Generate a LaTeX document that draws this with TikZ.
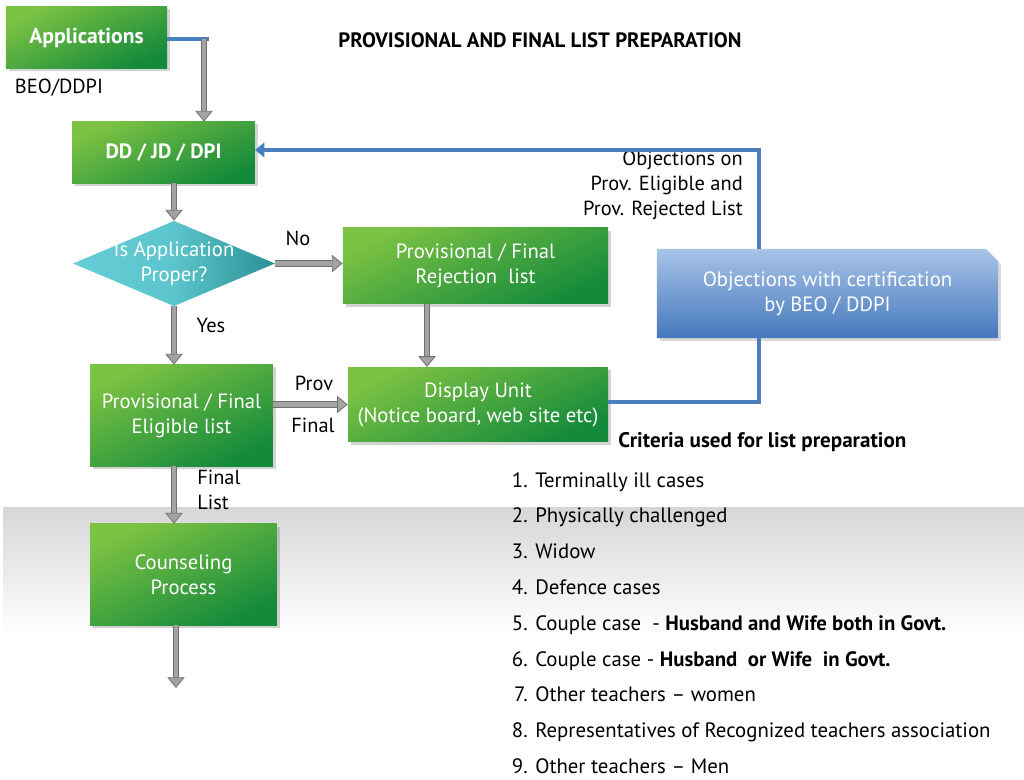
\documentclass[tikz,border=0pt]{standalone}
\usepackage{fontspec}
\setmainfont{PT Sans}
\usetikzlibrary{arrows.meta,shapes.geometric,shapes.misc,shadows,positioning}
\definecolor{boxlight}{HTML}{7CC243}
\definecolor{boxdark}{HTML}{148A3B}
\definecolor{teallight}{HTML}{64CDD6}
\definecolor{tealdark}{HTML}{2A9294}
\definecolor{objtop}{HTML}{A8C4E7}
\definecolor{objbottom}{HTML}{4578BD}
\definecolor{linkblue}{HTML}{4A7EBF}
\definecolor{arrowfill}{HTML}{A3A3A3}
\definecolor{arrowedge}{HTML}{707070}
\definecolor{bandgray}{HTML}{D6D6D6}
\begin{document}
\begin{tikzpicture}[x=0.75pt,y=-0.75pt,
  greenbox/.style={rectangle,inner sep=0pt,text=white,align=center,
    font=\fontsize{15.5}{18.75}\selectfont,
    top color=boxlight,bottom color=boxdark,shading angle=25,
    drop shadow={opacity=0.35,shadow xshift=2pt,shadow yshift=-2pt}},
  flow/.style={draw=arrowedge,line width=0.6pt,double=arrowfill,double distance=3.4pt,
    -{Triangle[width=13pt,length=8pt,fill=arrowfill]}},
  bluelink/.style={draw=linkblue,line width=3.6pt},
  lbl/.style={inner sep=0pt,font=\fontsize{15.3}{18.75}\selectfont},
  listitem/.style={inner sep=0pt,anchor=base west,font=\fontsize{15.6}{18}\selectfont}]
  \useasboundingbox (0,0) rectangle (1024,780);
  \fill[top color=bandgray,bottom color=white] (3,507) rectangle (1024,635);
  % boxes
  \node[greenbox,minimum width=121pt,minimum height=46pt,font=\bfseries\fontsize{16.2}{18}\selectfont] (app) at (86.5,37.5) {Applications};
  \node[lbl] (beo) at (59,88) {BEO/DDPI};
  \node[greenbox,minimum width=137pt,minimum height=46pt,font=\bfseries\fontsize{15.5}{18}\selectfont] (ddj) at (163.5,152.5) {DD / JD / DPI};
  \node[diamond,inner sep=0pt,minimum width=151.5pt,minimum height=64pt,
    left color=teallight,right color=tealdark,middle color=teallight!85!tealdark] (proper) at (174,263.5) {};
  \node[text=white,align=center,inner sep=0pt,font=\fontsize{15.5}{18.75}\selectfont] (propertext) at (proper.center) {Is Application\\Proper?};
  \node[greenbox,minimum width=199pt,minimum height=57pt] (reject) at (475.5,266) {Provisional / Final\\Rejection\ \ list};
  \node[greenbox,minimum width=195pt,minimum height=56pt] (display) at (478,404.5) {Display Unit\\(Notice board, web site etc)};
  \node[greenbox,minimum width=137pt,minimum height=76pt] (eligible) at (181.5,415.5) {Provisional / Final\\Eligible list};
  \node[greenbox,minimum width=140pt,minimum height=76pt] (counsel) at (183.5,574.5) {Counseling\\Process};
  \node[chamfered rectangle,chamfered rectangle corners=north east,chamfered rectangle xsep=6pt,
    inner sep=0pt,minimum width=256pt,minimum height=67pt,text=white,align=center,
    font=\fontsize{15.5}{18.75}\selectfont,top color=objtop,bottom color=objbottom,
    drop shadow={opacity=0.3,shadow xshift=2pt,shadow yshift=-2pt}] (objcert) at (827.5,293.5) {Objections with certification\\by BEO / DDPI};
  % texts
  \node[font=\bfseries\fontsize{15.6}{18}\selectfont] (title) at (540,40) {PROVISIONAL AND FINAL LIST PREPARATION};
  \node[lbl,align=right,anchor=north east] (objtext) at (743,151) {Objections on\\Prov. Eligible and\\Prov. Rejected List};
  \node[lbl] (no) at (298,238) {No};
  \node[lbl] (yes) at (211,325) {Yes};
  \node[lbl] (prov) at (314,383) {Prov};
  \node[lbl] (final) at (313,425) {Final};
  \node[lbl,align=left,anchor=north west] (finallist) at (197,470) {Final\\List};
  \node[lbl,font=\bfseries\fontsize{15.8}{18}\selectfont,anchor=west] (criteria) at (618,442) {Criteria used for list preparation};
  \foreach \txt [count=\i] in {Terminally ill cases,Physically challenged,Widow,Defence cases,
    {Couple case\ \ - \textbf{Husband and Wife both in Govt.}},
    {Couple case - \textbf{Husband\ \ or Wife\ \ in Govt.}},
    Other teachers -- women,Representatives of Recognized teachers association,Other teachers -- Men}
    {\node[listitem,anchor=base east] (num\i) at (528,{487+35.8*(\i-1)}) {\i.};
     \node[listitem] (item\i) at (535,{487+35.8*(\i-1)}) {\txt};}
  % connectors
  \coordinate (appjoin) at (204,39);
  \draw[bluelink] (app.east |- appjoin) -- ++(42,0);
  \draw[flow] (appjoin) -- (appjoin |- ddj.north);
  \draw[flow] (proper.north |- ddj.south) -- (proper.north);
  \draw[flow] (proper.east) -- (reject.west |- proper.east);
  \coordinate (rejdown) at (427,330);
  \draw[flow] (rejdown |- reject.south) -- (rejdown |- display.north);
  \draw[flow] (proper.south) -- (proper.south |- eligible.north);
  \draw[flow] (eligible.east |- display.west) -- (display.west);
  \draw[flow] (proper.south |- eligible.south) -- (proper.south |- counsel.north);
  \coordinate (outend) at (176,688);
  \draw[flow] (outend |- counsel.south) -- (outend);
  \coordinate (looptop) at (759,150);
  \draw[bluelink,-{Triangle[width=11pt,length=7pt]}] (looptop |- objcert.north) -- (looptop) -- (looptop -| ddj.east);
  \coordinate (loopbot) at (759,402);
  \draw[bluelink] (loopbot |- objcert.south) -- (loopbot) -- (loopbot -| display.east);
\end{tikzpicture}
\end{document}
